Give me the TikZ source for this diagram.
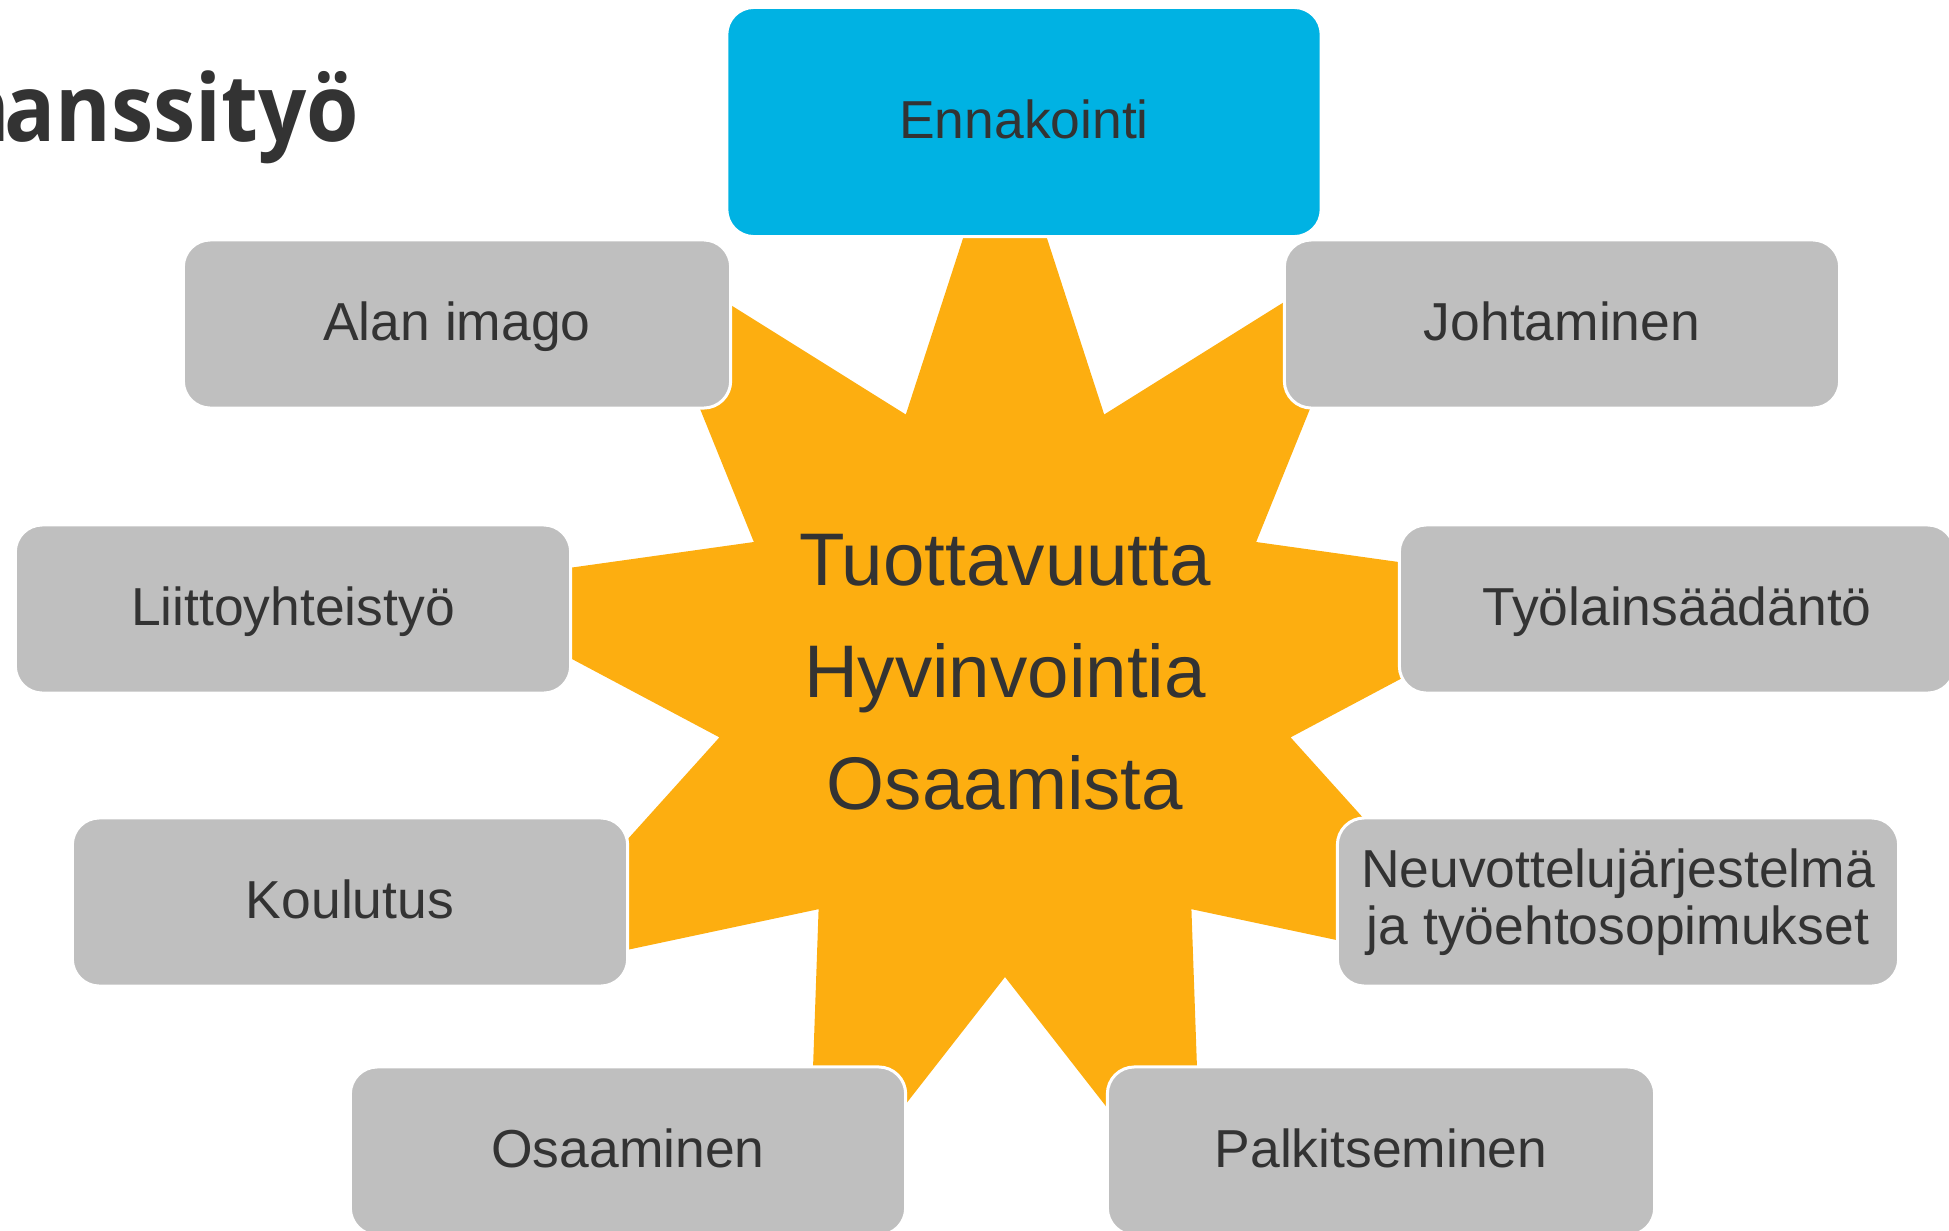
\documentclass[tikz,border=0pt]{standalone}
\usepackage{fontspec}
\setmainfont{Liberation Sans}
\newfontfamily\titlefont{Open Sans}[FakeStretch=0.91]

\definecolor{starOrange}{RGB}{253,174,16}
\definecolor{boxBlue}{RGB}{0,178,227}
\definecolor{boxGrey}{RGB}{191,191,191}
\definecolor{textGrey}{RGB}{51,51,51}

\begin{document}
\begin{tikzpicture}[x=0.01cm, y=-0.01cm,
	box/.style={rounded corners=0.27cm, draw=white, line width=0.03cm, fill=boxGrey, text=textGrey,%
		minimum width=5.55cm, minimum height=1.68cm, inner sep=0pt, align=center, font=\fontsize{15.2}{16.1}\selectfont},
	oneLine/.style={text height=0.42cm, text depth=0.10cm}]
	\useasboundingbox (0,0) rectangle (1949,1230);

	\node[anchor=base east, inner sep=0pt, text=textGrey, font=\titlefont\bfseries\fontsize{26.5}{30}\selectfont] (otsikko) at (360,141) {n\kern-0.06em anssityö};

	% tahti
	\fill[starOrange, shift={(1005,687)}] (-90:578) \foreach \i in {0,...,8} {-- ({-90+40*\i}:578) -- ({-70+40*\i}:290)} -- cycle;
	\node[inner sep=0pt, text=textGrey, align=center, font=\fontsize{21.2}{31.9}\selectfont] (keskus) at (1005,672) {Tuottavuutta\\Hyvinvointia\\Osaamista};

	\node[box, oneLine, fill=boxBlue, minimum width=5.94cm, minimum height=2.29cm] (ennakointi) at (1024,122) {Ennakointi};
	\node[box, oneLine, minimum width=5.47cm] (alanImago) at (457,324) {Alan imago};
	\node[box, oneLine] (johtaminen) at (1562,324) {Johtaminen};
	\node[box, oneLine] (liittoyhteistyo) at (293,609) {Liittoyhteistyö};
	\node[box, oneLine] (tyolainsaadanto) at (1677,609) {Työlainsäädäntö};
	\node[box, oneLine] (koulutus) at (350,902) {Koulutus};
	\node[box, minimum width=5.61cm] (neuvottelu) at (1618,902) {Neuvottelujärjestelmä\\ja työehtosopimukset};
	\node[box, oneLine] (osaaminen) at (628,1151) {Osaaminen};
	\node[box, oneLine, minimum width=5.47cm] (palkitseminen) at (1381,1151) {Palkitseminen};
\end{tikzpicture}
\end{document}
